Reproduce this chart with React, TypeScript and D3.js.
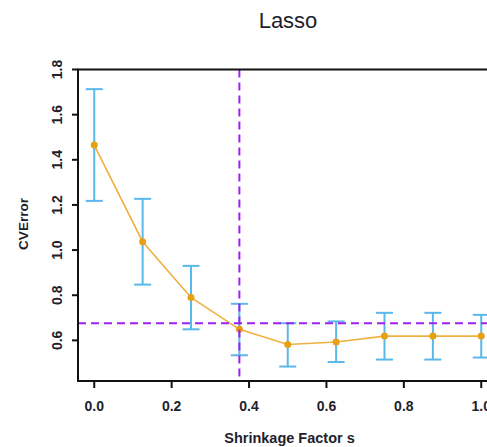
import React from "react";
import * as d3 from "d3";

// cross-validation curve for the lasso
const shrinkage = [0, 0.125, 0.25, 0.375, 0.5, 0.625, 0.75, 0.875, 1.0];
const cvMean = [1.465, 1.037, 0.79, 0.649, 0.582, 0.593, 0.619, 0.619, 0.619];
const cvUpper = [1.713, 1.227, 0.93, 0.762, 0.676, 0.684, 0.722, 0.722, 0.713];
const cvLower = [1.218, 0.847, 0.649, 0.534, 0.484, 0.504, 0.515, 0.515, 0.524];
const xTicks = [0, 0.2, 0.4, 0.6, 0.8, 1.0];
const yTicks = [0.6, 0.8, 1.0, 1.2, 1.4, 1.6, 1.8];
const oneSeLine = 0.676;
const chosenS = 0.375;

const width = 487;
const height = 447;
const font = "'Liberation Sans', Arial, sans-serif";
const textColor = "#1e1e2c";

export default function App() {
  const x = d3.scaleLinear().domain([-0.042, 1.042]).range([78, 497.5]);
  const y = d3.scaleLinear().domain([0.42, 1.8]).range([381, 69.5]);
  const [x0, x1] = x.range();
  const [y0, y1] = y.range();

  const points = shrinkage.map((s, i) => ({
    s,
    mean: cvMean[i],
    hi: cvUpper[i],
    lo: cvLower[i],
  }));

  const line = d3
    .line<{ s: number; mean: number }>()
    .x((d) => x(d.s))
    .y((d) => y(d.mean));

  const cap = 8.5;

  return (
    <svg
      width={width}
      height={height}
      style={{ position: "absolute", left: 0, top: 0, background: "#fff" }}
      fontFamily={font}
    >
      <text x={288} y={28} textAnchor="middle" fontSize={22} fill={textColor}>
        Lasso
      </text>

      {/* error bars */}
      <g stroke="#5bb8ea" strokeWidth={2} fill="none">
        {points.map((d, i) => (
          <g key={i}>
            <line x1={x(d.s)} x2={x(d.s)} y1={y(d.hi)} y2={y(d.lo)} />
            <line x1={x(d.s) - cap} x2={x(d.s) + cap} y1={y(d.hi)} y2={y(d.hi)} />
            <line x1={x(d.s) - cap} x2={x(d.s) + cap} y1={y(d.lo)} y2={y(d.lo)} />
          </g>
        ))}
      </g>

      <path d={line(points) || ""} fill="none" stroke="#f0b040" strokeWidth={1.6} />
      {points.map((d, i) => (
        <circle key={i} cx={x(d.s)} cy={y(d.mean)} r={3.5} fill="#e8a010" />
      ))}

      {/* reference lines */}
      <line
        x1={x0}
        x2={width}
        y1={y(oneSeLine)}
        y2={y(oneSeLine)}
        stroke="#a020f0"
        strokeWidth={2}
        strokeDasharray="8,5"
      />
      <line
        x1={x(chosenS)}
        x2={x(chosenS)}
        y1={y1}
        y2={y0}
        stroke="#a020f0"
        strokeWidth={2}
        strokeDasharray="8,5"
      />

      {/* box */}
      <rect x={x0} y={y1} width={x1 - x0} height={y0 - y1} fill="none" stroke="#111" strokeWidth={2} />

      {/* x axis */}
      {xTicks.map((t) => (
        <g key={t}>
          <line x1={x(t)} x2={x(t)} y1={y0} y2={y0 + 7} stroke="#111" strokeWidth={2} />
          <text x={x(t)} y={411} textAnchor="middle" fontSize={14} fontWeight="bold" fill={textColor}>
            {d3.format(".1f")(t)}
          </text>
        </g>
      ))}
      <text x={289.5} y={443} textAnchor="middle" fontSize={14.5} fontWeight="bold" fill={textColor}>
        Shrinkage Factor s
      </text>

      {/* y axis */}
      {yTicks.map((t) => (
        <g key={t}>
          <line x1={x0 - 6} x2={x0} y1={y(t)} y2={y(t)} stroke="#111" strokeWidth={2} />
          <text
            transform={`translate(61.5,${y(t)}) rotate(-90)`}
            textAnchor="middle"
            fontSize={14}
            fontWeight="bold"
            fill={textColor}
          >
            {d3.format(".1f")(t)}
          </text>
        </g>
      ))}
      <text
        transform={`translate(28,224) rotate(-90)`}
        textAnchor="middle"
        fontSize={13.5}
        fontWeight="bold"
        fill={textColor}
      >
        CVError
      </text>
    </svg>
  );
}
